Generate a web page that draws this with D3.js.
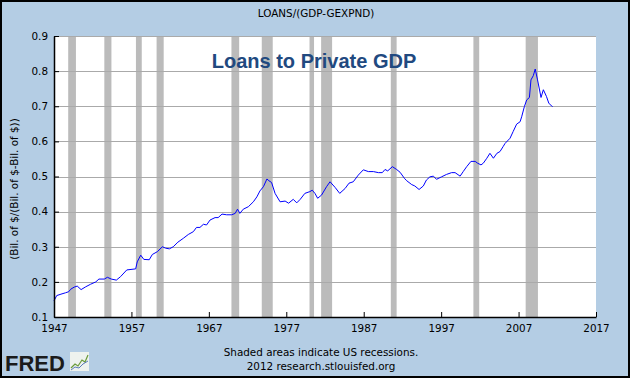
<!DOCTYPE html>
<html><head><meta charset="utf-8">
<script src="https://cdn.jsdelivr.net/npm/d3@7"></script>
<style>html,body{margin:0;padding:0;background:#b4cde4;}svg{display:block;}</style>
</head><body>
<svg id="c" width="630" height="378"></svg>
<script>
// ---- data ----
const years = [1947.0,1947.35,1947.9,1948.5,1948.9,1949.15,1949.6,1950.0,1950.5,1951.1,1951.7,1952.4,1952.8,1953.5,1953.9,1954.4,1955.05,1955.6,1956.4,1957.55,1957.75,1958.2,1958.6,1959.3,1959.7,1960.35,1961.0,1961.4,1961.9,1962.4,1963.0,1963.7,1964.35,1965.0,1965.4,1965.85,1966.3,1966.7,1967.15,1967.8,1968.2,1968.7,1969.3,1969.95,1970.4,1970.7,1971.0,1971.45,1972.1,1972.75,1973.2,1973.6,1974.05,1974.5,1974.75,1975.1,1975.55,1976.2,1976.85,1977.3,1977.9,1978.35,1978.8,1979.4,1980.05,1980.35,1980.7,1981.05,1981.55,1982.2,1982.65,1983.3,1983.9,1984.6,1985.1,1985.65,1986.3,1986.95,1987.6,1988.25,1988.9,1989.4,1989.75,1990.1,1990.7,1991.25,1991.7,1992.25,1992.55,1993.2,1993.6,1994.15,1994.7,1995.1,1995.55,1996.0,1996.4,1997.05,1997.7,1998.35,1998.8,1999.45,1999.85,2000.3,2000.85,2001.4,2001.7,2002.15,2002.45,2002.9,2003.3,2003.75,2004.2,2004.6,2005.0,2005.25,2005.9,2006.3,2006.75,2007.2,2007.4,2007.75,2008.05,2008.4,2008.6,2008.9,2009.15,2009.45,2009.9,2010.2,2010.6,2010.9,2011.25,2011.4];
const ratio = [0.146,0.161,0.165,0.169,0.172,0.179,0.185,0.188,0.178,0.186,0.193,0.200,0.208,0.208,0.213,0.208,0.205,0.215,0.234,0.237,0.257,0.276,0.264,0.263,0.278,0.286,0.300,0.296,0.294,0.300,0.313,0.324,0.335,0.343,0.355,0.355,0.364,0.362,0.376,0.383,0.383,0.393,0.391,0.391,0.395,0.407,0.395,0.407,0.414,0.428,0.442,0.459,0.471,0.493,0.488,0.483,0.452,0.428,0.430,0.424,0.435,0.425,0.435,0.452,0.457,0.461,0.452,0.438,0.447,0.471,0.485,0.469,0.452,0.466,0.481,0.485,0.504,0.519,0.514,0.514,0.511,0.511,0.520,0.516,0.528,0.520,0.512,0.495,0.488,0.477,0.473,0.463,0.473,0.490,0.499,0.501,0.492,0.499,0.506,0.511,0.511,0.501,0.514,0.528,0.543,0.543,0.538,0.533,0.538,0.552,0.566,0.552,0.566,0.571,0.585,0.594,0.609,0.628,0.649,0.656,0.670,0.699,0.718,0.725,0.775,0.787,0.806,0.775,0.725,0.747,0.728,0.709,0.701,0.699];
const recessionStart = [1948+10/12,1953+6/12,1957+7/12,1960+3/12,1969+11/12,1973+10/12,1980+0/12,1981+6/12,1990+6/12,2001+2/12,2007+11/12];
const recessionEnd   = [1949+10/12,1954+5/12,1958+4/12,1961+2/12,1970+11/12,1975+3/12,1980+7/12,1982+11/12,1991+3/12,2001+11/12,2009+6/12];
const xTicks = [1947,1957,1967,1977,1987,1997,2007,2017];
const yTicks = [0.1,0.2,0.3,0.4,0.5,0.6,0.7,0.8,0.9];
const topTitle = "LOANS/(GDP-GEXPND)";
const chartTitle = "Loans to Private GDP";
const yLabel = "(Bil. of $/(Bil. of $-Bil. of $))";
const note1 = "Shaded areas indicate US recessions.";
const note2 = "2012 research.stlouisfed.org";

// ---- layout ----
const W = 630, H = 378;
const L = 54, R = 596, T = 36, B = 317;
const svg = d3.select("#c");
const font = "DejaVu Sans, Verdana, sans-serif";

svg.append("rect").attr("x",0).attr("y",0).attr("width",W).attr("height",H).attr("fill","#b4cde4");
svg.append("rect").attr("x",1).attr("y",1).attr("width",W-2).attr("height",H-2)
  .attr("fill","none").attr("stroke","#000").attr("stroke-width",2);

const x = d3.scaleLinear().domain([1947,2017]).range([L,R]);
const y = d3.scaleLinear().domain([0.1,0.9]).range([B,T]);

svg.append("rect").attr("x",L).attr("y",T).attr("width",R-L).attr("height",B-T).attr("fill","#fff");

// recession bars
svg.append("g").selectAll("rect").data(recessionStart).join("rect")
  .attr("x",(d)=>x(d)).attr("y",T)
  .attr("width",(d,i)=>x(recessionEnd[i])-x(d)).attr("height",B-T)
  .attr("fill","#bbbbbb");

// gridlines
svg.append("g").selectAll("line").data(yTicks.slice(1)).join("line")
  .attr("x1",L).attr("x2",R).attr("y1",d=>Math.round(y(d))+0.5).attr("y2",d=>Math.round(y(d))+0.5)
  .attr("stroke","#aaaaaa").attr("stroke-width",1);

// line
const line = d3.line().x((d,i)=>x(years[i])).y(d=>y(d));
svg.append("path").datum(ratio).attr("d",line)
  .attr("fill","none").attr("stroke","#0000ff").attr("stroke-width",1);

// axes
const yAxis = d3.axisLeft(y).tickValues(yTicks).tickFormat(d3.format(".1f"))
  .tickSizeInner(-5).tickSizeOuter(0).tickPadding(6);
const gy = svg.append("g").attr("transform",`translate(${L},0)`).call(yAxis);
const xAxis = d3.axisBottom(x).tickValues(xTicks).tickFormat(d3.format("d"))
  .tickSizeInner(-5).tickSizeOuter(0).tickPadding(8);
const gx = svg.append("g").attr("transform",`translate(0,${B})`).call(xAxis);
[gx,gy].forEach(g=>{
  g.selectAll("text").attr("font-family",font).attr("font-size","10.4px").attr("fill","#000");
  g.selectAll("line").attr("stroke","#000");
  g.select(".domain").attr("stroke","#000").attr("stroke-width",1.5);
});

// texts
svg.append("text").attr("x",316).attr("y",17).attr("text-anchor","middle")
  .attr("font-family",font).attr("font-size","10.4px").text(topTitle);
svg.append("text").attr("x",314).attr("y",68).attr("text-anchor","middle")
  .attr("font-family","Liberation Sans, Arial, sans-serif").attr("font-weight","bold")
  .attr("font-size","20px").attr("fill","#21497f").text(chartTitle);
svg.append("text").attr("transform","translate(18,189) rotate(-90)").attr("text-anchor","middle")
  .attr("font-family",font).attr("font-size","10.4px").text(yLabel);
svg.append("text").attr("x",321).attr("y",356).attr("text-anchor","middle")
  .attr("font-family",font).attr("font-size","10.4px").text(note1);
svg.append("text").attr("x",321).attr("y",370).attr("text-anchor","middle")
  .attr("font-family",font).attr("font-size","10.4px").text(note2);

// FRED logo
svg.append("text").attr("x",5).attr("y",371)
  .attr("font-family","Liberation Sans, Arial, sans-serif").attr("font-weight","bold")
  .attr("font-size","22px").attr("fill","#1b1b1b").text("FRED");
const icon = svg.append("g").attr("transform","translate(70,352)");
icon.append("rect").attr("width",19).attr("height",19).attr("fill","#eef2ee");
icon.append("polyline").attr("points","1,16 5,12 8,14 12,8 15,10 18,3").attr("fill","none").attr("stroke","#6a9a3a").attr("stroke-width",1.2);
icon.append("polyline").attr("points","1,18 5,15 9,16 13,12 18,9").attr("fill","none").attr("stroke","#5a7ab8").attr("stroke-width",1);
</script>
</body></html>
